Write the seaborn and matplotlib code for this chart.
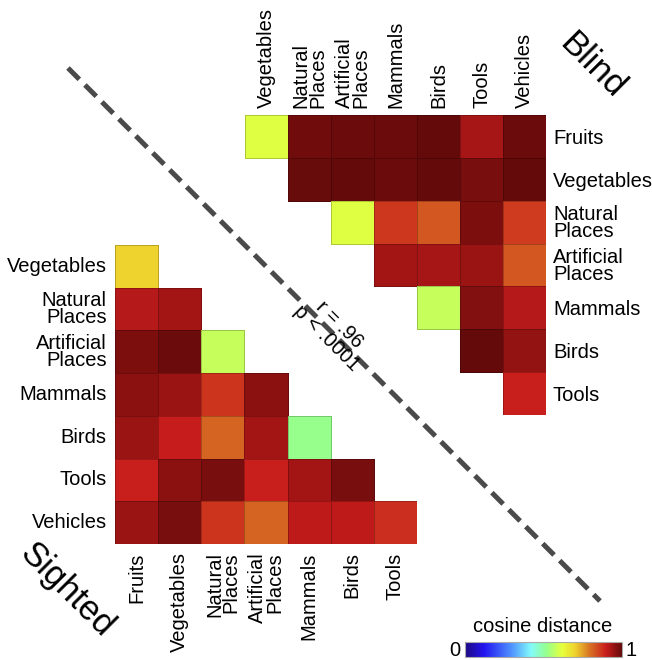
import numpy as np
import pandas as pd
import seaborn as sns
import matplotlib.pyplot as plt
from matplotlib.colors import LinearSegmentedColormap

sns.set_theme(style='white')
plt.rcParams['font.family'] = ['Liberation Sans', 'DejaVu Sans']
plt.rcParams['text.color'] = 'black'
plt.rcParams['xtick.color'] = 'black'
plt.rcParams['ytick.color'] = 'black'

# 범주 이름
sighted_rows = ['Vegetables', 'Natural\nPlaces', 'Artificial\nPlaces', 'Mammals', 'Birds', 'Tools', 'Vehicles']
sighted_cols = ['Fruits', 'Vegetables', 'Natural\nPlaces', 'Artificial\nPlaces', 'Mammals', 'Birds', 'Tools']
blind_rows = ['Fruits', 'Vegetables', 'Natural\nPlaces', 'Artificial\nPlaces', 'Mammals', 'Birds', 'Tools']
blind_cols = ['Vegetables', 'Natural\nPlaces', 'Artificial\nPlaces', 'Mammals', 'Birds', 'Tools', 'Vehicles']

# sighted: 아래 삼각형 (행마다 왼쪽부터)
sighted_vegetables = [0.70]
sighted_natural = [0.915, 0.935]
sighted_artificial = [0.975, 0.99, 0.58]
sighted_mammals = [0.96, 0.945, 0.87, 0.96]
sighted_birds = [0.945, 0.90, 0.81, 0.935, 0.52]
sighted_tools = [0.895, 0.96, 0.98, 0.895, 0.935, 0.98]
sighted_vehicles = [0.945, 0.98, 0.87, 0.81, 0.91, 0.91, 0.875]

# blind: 위 삼각형 (행마다 오른쪽 끝까지)
blind_fruits = [0.61, 0.985, 0.99, 0.99, 1.0, 0.93, 0.99]
blind_vegetables = [0.993, 0.997, 0.99, 1.0, 0.98, 1.0]
blind_natural = [0.61, 0.865, 0.825, 0.975, 0.86]
blind_artificial = [0.935, 0.93, 0.945, 0.825]
blind_mammals = [0.58, 0.965, 0.915]
blind_birds = [1.0, 0.95]
blind_tools = [0.895]

sighted_vals = [sighted_vegetables, sighted_natural, sighted_artificial, sighted_mammals,
                sighted_birds, sighted_tools, sighted_vehicles]
blind_vals = [blind_fruits, blind_vegetables, blind_natural, blind_artificial,
              blind_mammals, blind_birds, blind_tools]

# NaN 으로 채운 7x7 표 만들기
sighted_mat = np.full((7, 7), np.nan)
for i, row in enumerate(sighted_vals):
    sighted_mat[i, :len(row)] = row
blind_mat = np.full((7, 7), np.nan)
for i, row in enumerate(blind_vals):
    blind_mat[i, 7 - len(row):] = row

sighted_df = pd.DataFrame(sighted_mat, index=sighted_rows, columns=sighted_cols)
blind_df = pd.DataFrame(blind_mat, index=blind_rows, columns=blind_cols)

# 조금 어두운 jet 비슷한 색
jet_like = LinearSegmentedColormap.from_list('jet_like', [
    (0.00, (30/255, 10/255, 130/255)),
    (0.12, (35/255, 20/255, 240/255)),
    (0.30, (80/255, 150/255, 255/255)),
    (0.42, (130/255, 250/255, 250/255)),
    (0.52, (150/255, 255/255, 140/255)),
    (0.62, (230/255, 255/255, 60/255)),
    (0.70, (238/255, 212/255, 45/255)),
    (0.80, (215/255, 110/255, 35/255)),
    (0.90, (200/255, 28/255, 28/255)),
    (1.00, (100/255, 10/255, 10/255)),
])

W, H = 652, 660
fig = plt.figure(figsize=(W / 100, H / 100), dpi=100)

def px_axes(x0, y0, x1, y1):
    return fig.add_axes([x0 / W, 1 - y1 / H, (x1 - x0) / W, (y1 - y0) / H])

def cell_edges(ax, mat):
    # 빈 칸에는 테두리를 그리지 않음
    mesh = ax.collections[0]
    ec = np.zeros((mat.size, 4))
    ec[:, 3] = np.where(np.isnan(mat.ravel()), 0.0, 0.22)
    mesh.set_edgecolor(ec)
    mesh.set_linewidth(0.7)
    ax.set_facecolor('none')

fs = 14.5
cell_kw = dict(cmap=jet_like, vmin=0, vmax=1, cbar=False, square=False)

# blind 히트맵
ax_b = px_axes(245, 115, 546, 415)
sns.heatmap(blind_df, ax=ax_b, **cell_kw)
cell_edges(ax_b, blind_mat)
ax_b.xaxis.tick_top()
ax_b.yaxis.tick_right()
ax_b.tick_params(length=0, pad=5)
ax_b.set_xticklabels(blind_cols, rotation=90, fontsize=fs, va='bottom',
                     multialignment='left', linespacing=0.85)
ax_b.set_yticklabels(blind_rows, rotation=0, fontsize=fs, ha='left',
                     multialignment='left', linespacing=0.85)
ax_b.set_xlabel('')
ax_b.set_ylabel('')

# sighted 히트맵
ax_s = px_axes(115, 245, 417, 544)
sns.heatmap(sighted_df, ax=ax_s, **cell_kw)
cell_edges(ax_s, sighted_mat)
ax_s.tick_params(length=0, pad=6)
ax_s.set_xticklabels(sighted_cols, rotation=90, fontsize=fs, va='top',
                     multialignment='right', linespacing=0.85)
ax_s.set_yticklabels(sighted_rows, rotation=0, fontsize=fs, ha='right',
                     multialignment='right', linespacing=0.85)
ax_s.set_xlabel('')
ax_s.set_ylabel('')

# 대각선, 글자
ax_all = fig.add_axes([0, 0, 1, 1], zorder=-1)
ax_all.set_xlim(0, W)
ax_all.set_ylim(H, 0)
ax_all.axis('off')
ax_all.plot([68, 600], [68, 601], ls=(0, (3.2, 1.6)), lw=3.6, color='#4a4a4a')
ax_all.text(333, 331, 'r = .96\np < .0001', rotation=-45, rotation_mode='anchor',
            ha='center', va='center', multialignment='center', fontsize=fs, linespacing=1.0)
ax_all.text(592, 66, 'Blind', rotation=-45, rotation_mode='anchor',
            ha='center', va='center', fontsize=25)
ax_all.text(67, 590, 'Sighted', rotation=-45, rotation_mode='anchor',
            ha='center', va='center', fontsize=25)

# 컬러바
cax = px_axes(465, 642, 622, 657)
cb = fig.colorbar(ax_s.collections[0], cax=cax, orientation='horizontal')
cb.set_ticks([])
cb.outline.set_edgecolor('#aaaaaa')
cb.outline.set_linewidth(0.8)
ax_all.text(543, 627, 'cosine distance', ha='center', va='center', fontsize=fs)
ax_all.text(455, 650, '0', ha='center', va='center', fontsize=fs)
ax_all.text(631, 650, '1', ha='center', va='center', fontsize=fs)

fig.savefig('out.png', dpi=100, facecolor='white')
